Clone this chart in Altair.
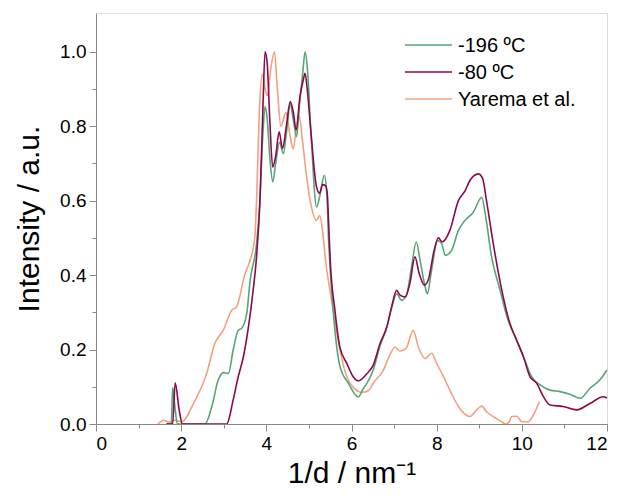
import altair as alt
import pandas as pd

names = ["-196 ºC", "-80 ºC", "Yarema et al."]
colors = ["#55a676", "#8c0a4b", "#f4a07c"]

x_196 = [1.65, 1.77, 1.80, 1.85, 1.91, 2.56, 2.72, 2.87, 2.99, 3.11, 3.22, 3.34, 3.42, 3.54, 3.62, 3.77, 3.85,
         3.92, 3.97, 4.02, 4.08, 4.15, 4.22, 4.31, 4.40, 4.48, 4.56, 4.63, 4.71, 4.78, 4.86, 4.91, 4.96, 5.05,
         5.18, 5.27, 5.36, 5.42, 5.46, 5.52, 5.61, 5.73, 5.93, 6.16, 6.28, 6.36, 6.51, 6.67, 6.83, 6.94, 7.06,
         7.18, 7.30, 7.41, 7.52, 7.61, 7.73, 7.78, 7.88, 8.02, 8.12, 8.20, 8.35, 8.51, 8.63, 8.86, 9.06, 9.14,
         9.29, 9.49, 9.65, 9.84, 10.04, 10.23, 10.43, 10.66, 10.90, 11.13, 11.37, 11.60, 11.83, 12.0]
y_196 = [0, 0, 0.098, 0.05, 0, 0, 0.047, 0.118, 0.138, 0.136, 0.198, 0.252, 0.257, 0.297, 0.386, 0.484, 0.60,
         0.78, 0.853, 0.82, 0.72, 0.651, 0.70, 0.757, 0.726, 0.79, 0.86, 0.82, 0.772, 0.86, 0.95, 1.0, 0.96, 0.78,
         0.583, 0.62, 0.668, 0.62, 0.50, 0.38, 0.252, 0.154, 0.109, 0.073, 0.096, 0.109, 0.145, 0.21, 0.26, 0.31, 0.35,
         0.332, 0.35, 0.422, 0.489, 0.44, 0.368, 0.350, 0.413, 0.493, 0.484, 0.453, 0.466, 0.52, 0.542, 0.569, 0.609, 0.565,
         0.449, 0.359, 0.288, 0.234, 0.18, 0.127, 0.105, 0.091, 0.087, 0.08, 0.069, 0.096, 0.118, 0.145]

x_80 = [1.65, 1.80, 1.86, 1.95, 2.03, 2.5, 3.07, 3.22, 3.34, 3.46, 3.58, 3.69, 3.77, 3.85, 3.92, 3.97, 4.02, 4.08,
        4.15, 4.22, 4.30, 4.38, 4.47, 4.56, 4.63, 4.70, 4.79, 4.86, 4.91, 4.96, 5.05, 5.18, 5.25, 5.32, 5.39, 5.43,
        5.46, 5.50, 5.61, 5.73, 5.89, 6.04, 6.16, 6.36, 6.51, 6.67, 6.83, 6.94, 7.06, 7.14, 7.26, 7.37, 7.49, 7.59,
        7.71, 7.80, 7.94, 8.04, 8.13, 8.31, 8.51, 8.67, 8.78, 8.98, 9.08, 9.17, 9.33, 9.53, 9.72, 9.88, 10.04, 10.19,
        10.35, 10.50, 10.66, 10.97, 11.29, 11.60, 11.91, 12.0]
y_80 = [0, 0, 0.111, 0.04, 0, 0, 0, 0.064, 0.127, 0.18, 0.261, 0.359, 0.449, 0.60, 0.85, 1.0, 0.97, 0.82,
        0.69, 0.72, 0.785, 0.74, 0.80, 0.866, 0.84, 0.79, 0.88, 0.92, 0.942, 0.90, 0.78, 0.636, 0.62, 0.643, 0.64, 0.62,
        0.547, 0.44, 0.306, 0.205, 0.163, 0.127, 0.116, 0.135, 0.158, 0.216, 0.261, 0.314, 0.359, 0.346, 0.341, 0.377, 0.449, 0.404,
        0.373, 0.386, 0.466, 0.50, 0.489, 0.52, 0.60, 0.627, 0.654, 0.672, 0.659, 0.60, 0.484, 0.359, 0.27, 0.225, 0.18, 0.127,
        0.109, 0.075, 0.051, 0.047, 0.038, 0.055, 0.073, 0.07]

x_yar = [1.45, 1.60, 1.70, 1.85, 2.01, 2.29, 2.60, 2.79, 2.99, 3.19, 3.30, 3.50, 3.62, 3.73, 3.77, 3.84, 3.91,
         3.97, 4.03, 4.10, 4.19, 4.26, 4.34, 4.46, 4.55, 4.63, 4.70, 4.77, 4.85, 4.94, 5.03, 5.18, 5.25, 5.42,
         5.57, 5.73, 5.89, 6.05, 6.25, 6.40, 6.51, 6.75, 6.90, 7.02, 7.14, 7.28, 7.45, 7.57, 7.73, 7.88, 8.00,
         8.16, 8.31, 8.51, 8.78, 8.94, 9.06, 9.17, 9.33, 9.53, 9.62, 9.70, 9.76, 9.88, 10.0, 10.15, 10.27, 10.41]
y_yar = [0, 0.01, 0.005, 0.01, 0.006, 0.055, 0.136, 0.216, 0.252, 0.306, 0.314, 0.404, 0.44, 0.502, 0.60, 0.85, 0.94,
         0.90, 0.882, 0.95, 1.0, 0.90, 0.80, 0.837, 0.78, 0.739, 0.79, 0.828, 0.76, 0.67, 0.60, 0.547, 0.56, 0.413,
         0.306, 0.198, 0.127, 0.097, 0.085, 0.09, 0.11, 0.145, 0.185, 0.206, 0.196, 0.203, 0.252, 0.207, 0.176, 0.19, 0.163,
         0.127, 0.091, 0.047, 0.02, 0.038, 0.048, 0.033, 0.02, 0.006, 0.0, 0.005, 0.02, 0.021, 0.006, 0.006, 0.024, 0.06]

xs = [x_196, x_80, x_yar]
ys = [y_196, y_80, y_yar]

FONT = "Liberation Sans"

x_ticks = list(range(0, 13))
y_ticks = [round(i * 0.1, 1) for i in range(0, 11)]

x_axis = alt.Axis(values=x_ticks, labelExpr="datum.value % 2 == 0 ? datum.label : ''",
                  tickSize={"condition": {"test": "datum.value % 2 == 0", "value": 7}, "value": 4},
                  title="1/d / nm⁻¹", titleFontSize=30, titleFontWeight="normal", titlePadding=5,
                  labelFontSize=19, labelPadding=3, grid=False)
y_axis = alt.Axis(values=y_ticks, labelExpr="round(datum.value*10) % 2 == 0 ? format(datum.value, '.1f') : ''",
                  tickSize={"condition": {"test": "round(datum.value*10) % 2 == 0", "value": 7}, "value": 4},
                  title="Intensity / a.u.", titleFontSize=30, titleFontWeight="normal", titlePadding=15,
                  labelFontSize=19, labelPadding=3, grid=False)

layers = []
for i in [2, 0, 1]:
    df = pd.DataFrame({"x": xs[i], "y": ys[i], "series": names[i]})
    layers.append(
        alt.Chart(df).mark_line(strokeWidth=1.6, clip=True, interpolate="monotone").encode(
            x=alt.X("x:Q", scale=alt.Scale(domain=[0, 12], nice=False), axis=x_axis),
            y=alt.Y("y:Q", scale=alt.Scale(domain=[0, 1.104], nice=False), axis=y_axis),
            color=alt.Color("series:N", scale=alt.Scale(domain=names, range=colors), legend=None),
        )
    )

# legend drawn inside the plot
for i in range(3):
    ldf = pd.DataFrame({"series": [names[i]]})
    yy = 32 + 27 * i
    layers.append(alt.Chart(ldf).mark_rule(strokeWidth=1.6).encode(
        x=alt.value(309), x2=alt.value(356), y=alt.value(yy),
        color=alt.Color("series:N", scale=alt.Scale(domain=names, range=colors), legend=None)))
    layers.append(alt.Chart(ldf).mark_text(align="left", baseline="middle", fontSize=20, font=FONT,
                                           color="black").encode(
        x=alt.value(362), y=alt.value(yy + 1), text="series:N"))

chart = alt.layer(*layers).properties(
    width=511, height=411, autosize="none",
    padding={"left": 96, "top": 13, "right": 12, "bottom": 76},
).configure_view(stroke="black", strokeWidth=1.2).configure_axis(
    labelFont=FONT, titleFont=FONT, labelColor="black", titleColor="black",
    tickColor="black", domainColor="black", domainWidth=1.2, tickWidth=1.2,
).configure(background="white")

chart.save("out.html", embed_options={"renderer": "svg", "actions": False})
